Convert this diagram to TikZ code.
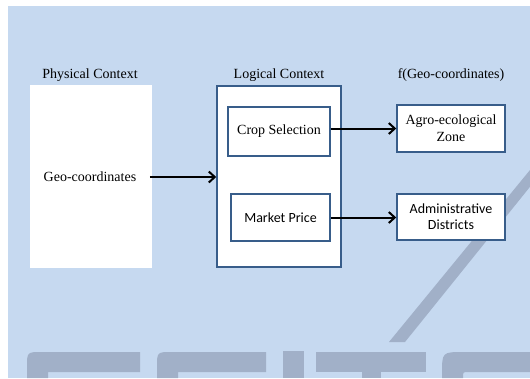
\documentclass[tikz,border=0pt]{standalone}
\usepackage{fontspec}
\setmainfont{Liberation Serif}
\newfontfamily\calib{Carlito}
\usetikzlibrary{arrows.meta}
\definecolor{bgblue}{RGB}{198,217,240}
\definecolor{wmgrey}{RGB}{161,176,200}
\definecolor{boxblue}{RGB}{56,93,138}
\begin{document}
\begin{tikzpicture}[x=1pt,y=-1pt,
  font=\rmfamily\fontsize{14}{17}\selectfont,
  box/.style={draw=boxblue, line width=1.5pt, fill=white, inner sep=0pt, align=center, font=\rmfamily\fontsize{14}{17}\selectfont},
  sansbox/.style={box, font=\calib\fontsize{14}{16}\selectfont},
  arr/.style={line width=2pt, -{Straight Barb[length=6pt,width=11pt,line width=2pt]}},
  wm/.style={fill=wmgrey}]
\useasboundingbox (0,0) rectangle (530,378);
\fill[bgblue] (8,6) rectangle (530,378);
% watermark
\fill[wm] (389,342) -- (405,342) -- (530,186.8) -- (530,170) -- cycle;
\fill[wm] (27,378) -- (27,367) .. controls (27,352) .. (42,352) -- (140,352) -- (140,372) -- (48,372) -- (48,378) -- cycle;
\fill[wm] (157,378) -- (157,367) .. controls (157,352) .. (172,352) -- (266,352) -- (266,372) -- (178,372) -- (178,378) -- cycle;
\fill[wm] (283,351) rectangle (304,378);
\fill[wm] (316,352) rectangle (426,372);
\fill[wm] (362,372) rectangle (381,378);
\fill[wm] (442,378) -- (442,374) .. controls (442,352) .. (464,352) -- (530,352) -- (530,372) -- (468,372) .. controls (463,372) .. (463,378) -- cycle;
% physical context
\node[fill=white, minimum width=122pt, minimum height=183pt, inner sep=0pt] (phys) at (91,176.5) {};
\node (physlab) at (90,75) {Physical Context};
\node (geo) at (90,177) {Geo-coordinates};
% logical context
\node[box, minimum width=124pt, minimum height=181pt] (logic) at (279,176.5) {};
\node (logiclab) at (279,75) {Logical Context};
\node[box, minimum width=102pt, minimum height=49pt] (crop) at (279,131.5) {Crop Selection};
\node[sansbox, minimum width=99pt, minimum height=47pt] (market) at (280.5,217.5) {Market Price};
% f(geo)
\node (flab) at (451,75) {f(Geo-coordinates)};
\node[box, minimum width=108pt, minimum height=47pt] (agro) at (451,128.5) {Agro-ecological\\Zone};
\node[sansbox, minimum width=108pt, minimum height=46pt] (admin) at (451,217) {Administrative\\Districts};
% arrows
\draw[arr, shorten <=10pt] (geo.east) -- (logic.west |- geo.east);
\draw[arr] (crop.east |- agro.west) -- (agro.west);
\draw[arr] (market.east) -- (admin.west |- market.east);
\end{tikzpicture}
\end{document}
